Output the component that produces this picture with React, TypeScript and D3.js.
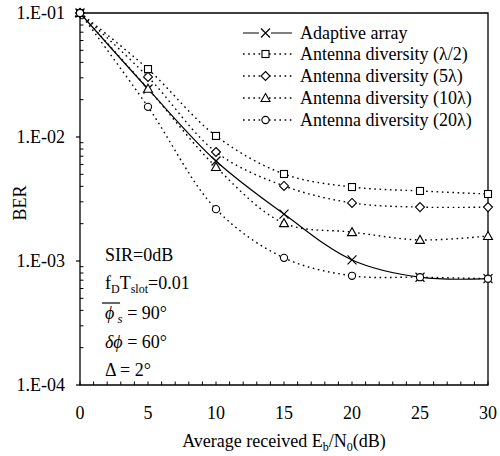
import * as d3 from "d3";

const snr = [0, 5, 10, 15, 20, 25, 30];
const adaptive = [0.1, 0.0244, 0.0064, 0.00239, 0.00102, 0.00074, 0.00072];
const divHalf = [0.1, 0.0353, 0.0102, 0.00503, 0.00395, 0.00367, 0.00347];
const div5 = [0.1, 0.0305, 0.00757, 0.00403, 0.00294, 0.00272, 0.00272];
const div10 = [0.1, 0.0245, 0.00573, 0.00202, 0.00171, 0.00148, 0.00159];
const div20 = [0.1, 0.0175, 0.00262, 0.00106, 0.00076, 0.00074, 0.00072];

const seriesNames = [
  "Adaptive array",
  "Antenna diversity (\u03bb/2)",
  "Antenna diversity (5\u03bb)",
  "Antenna diversity (10\u03bb)",
  "Antenna diversity (20\u03bb)",
];
const seriesMarkers = ["x", "square", "diamond", "triangle", "circle"];
const yTickLabels = ["1.E-04", "1.E-03", "1.E-02", "1.E-01"];
const xTicks = [0, 5, 10, 15, 20, 25, 30];

const W = 500;
const H = 456;
const left = 80;
const right = 488;
const top = 13;
const bottom = 385;
const FONT = "Liberation Serif";

function Marker({ kind, x, y }: { kind: string; x: number; y: number }) {
  const s = { stroke: "#000", strokeWidth: 1.1, fill: "#fff" };
  if (kind === "x") {
    const r = 4.5;
    return (
      <path
        d={`M${x - r},${y - r}L${x + r},${y + r}M${x - r},${y + r}L${x + r},${y - r}`}
        stroke="#000"
        strokeWidth={1.2}
        fill="none"
      />
    );
  }
  if (kind === "square") return <rect x={x - 3.5} y={y - 3.5} width={7} height={7} {...s} />;
  if (kind === "diamond")
    return <path d={`M${x},${y - 4.5}L${x + 4.5},${y}L${x},${y + 4.5}L${x - 4.5},${y}Z`} {...s} />;
  if (kind === "triangle")
    return <path d={`M${x},${y - 4.5}L${x + 4.5},${y + 3.5}L${x - 4.5},${y + 3.5}Z`} {...s} />;
  return <circle cx={x} cy={y} r={3.6} {...s} />;
}

function T(props: any) {
  const { children, ...rest } = props;
  return (
    <text fontFamily={FONT} style={{ fontFamily: `"${FONT}"` }} {...rest}>
      {children}
    </text>
  );
}

export default function App() {
  const x = d3.scaleLinear().domain([0, 30]).range([left, right]);
  const y = d3.scaleLog().domain([1e-4, 1e-1]).range([bottom, top]);
  const series = [adaptive, divHalf, div5, div10, div20];

  const line = d3
    .line<number>()
    .x((_, i) => x(snr[i]))
    .y((d) => y(d))
    .curve(d3.curveCatmullRom.alpha(0.5));

  const majors = [1e-4, 1e-3, 1e-2, 1e-1];
  const minors: number[] = [];
  [1e-4, 1e-3, 1e-2].forEach((b) => {
    for (let k = 2; k <= 9; k++) minors.push(b * k);
  });
  const xMinor = d3.range(0, 31, 1);

  const legendY = [33, 54, 76, 98, 120];

  return (
    <svg width={W} height={H} fontFamily={FONT} style={{ position: "absolute", left: 0, top: 0 }}>
      <rect width={W} height={H} fill="#fff" />
      {/* frame */}
      <path
        d={`M${left},${top}H${right}V${bottom}H${left}Z`}
        fill="none"
        stroke="#000"
        strokeWidth={1.3}
      />
      {/* y ticks */}
      {majors.map((v, i) => (
        <g key={"ym" + i}>
          <line x1={left - 4} x2={left} y1={y(v)} y2={y(v)} stroke="#000" strokeWidth={1.2} />
          <T x={65} y={y(v) + 6} textAnchor="end" fontSize={18}>
            {yTickLabels[i]}
          </T>
        </g>
      ))}
      {minors.map((v, i) => (
        <line key={"yn" + i} x1={left} x2={left + 3.5} y1={y(v)} y2={y(v)} stroke="#000" strokeWidth={1} />
      ))}
      {/* x ticks */}
      {xMinor.map((v) => (
        <line key={"xn" + v} x1={x(v)} x2={x(v)} y1={bottom} y2={bottom - 3.5} stroke="#000" strokeWidth={1} />
      ))}
      {xTicks.map((v) => (
        <T key={"xl" + v} x={x(v)} y={419} textAnchor="middle" fontSize={18}>
          {String(v)}
        </T>
      ))}
      <T x={(left + right) / 2} y={447} textAnchor="middle" fontSize={18}>
        Average received E
        <tspan fontSize={12} dy="4">b</tspan>
        <tspan dy="-4">/N</tspan>
        <tspan fontSize={12} dy="4">0</tspan>
        <tspan dy="-4">(dB)</tspan>
      </T>
      <T transform={`translate(26,203) rotate(-90)`} textAnchor="middle" fontSize={18}>
        BER
      </T>

      {/* series lines */}
      {series.map((s, si) => (
        <path
          key={"l" + si}
          d={line(s) || ""}
          fill="none"
          stroke="#000"
          strokeWidth={si === 0 ? 1.2 : 1.4}
          strokeDasharray={si === 0 ? undefined : "1.6 3.6"}
        />
      ))}
      {series.map((s, si) =>
        s.map((v, i) => <Marker key={`m${si}-${i}`} kind={seriesMarkers[si]} x={x(snr[i])} y={y(v)} />)
      )}

      {/* legend */}
      {seriesNames.map((n, i) => (
        <g key={"lg" + i}>
          <line
            x1={243}
            x2={292}
            y1={legendY[i]}
            y2={legendY[i]}
            stroke="#000"
            strokeWidth={i === 0 ? 1.2 : 1.4}
            strokeDasharray={i === 0 ? undefined : "1.6 3.6"}
          />
          {i === 0 && <rect x={259} y={legendY[i] - 5} width={12} height={10} fill="#fff" />}
          <Marker kind={seriesMarkers[i]} x={265.5} y={legendY[i]} />
          <T x={300} y={legendY[i] + 6} fontSize={18}>
            {n}
          </T>
        </g>
      ))}

      {/* annotations */}
      <T x={105} y={261} fontSize={18}>
        SIR=0dB
      </T>
      <T x={105} y={289} fontSize={18}>
        f<tspan fontSize={12} dy="4">D</tspan>
        <tspan dy="-4">T</tspan>
        <tspan fontSize={12} dy="4">slot</tspan>
        <tspan dy="-4">=0.01</tspan>
      </T>
      <line x1={102} x2={120} y1={303} y2={303} stroke="#000" strokeWidth={1.2} />
      <T x={105} y={319} fontSize={18}>
        <tspan fontStyle="italic">{"\u03d5"}</tspan>
        <tspan fontStyle="italic" fontSize={13} dy="4"> s</tspan>
        <tspan dy="-4"> = 90°</tspan>
      </T>
      <T x={105} y={348} fontSize={18}>
        <tspan fontStyle="italic">{"\u03b4\u03d5"}</tspan> = 60°
      </T>
      <T x={105} y={376} fontSize={18}>
        {"\u0394"} = 2°
      </T>
    </svg>
  );
}
